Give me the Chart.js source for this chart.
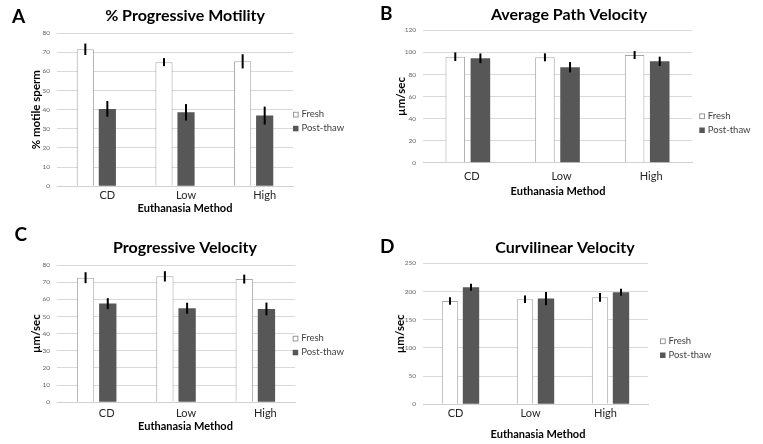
<!DOCTYPE html>
<html>
<head>
<meta charset="utf-8">
<script src="https://cdn.jsdelivr.net/npm/chart.js@4/dist/chart.umd.min.js"></script>
<style>
  body { margin: 0; background: #fff; }
  #wrap { position: relative; width: 763px; height: 444px; overflow: hidden; }
  canvas { position: absolute; }
</style>
</head>
<body>
<div id="wrap">
  <canvas id="chartA" width="380" height="222" style="left:0;top:0"></canvas>
  <canvas id="chartB" width="383" height="222" style="left:380px;top:0"></canvas>
  <canvas id="chartC" width="380" height="222" style="left:0;top:222px"></canvas>
  <canvas id="chartD" width="383" height="222" style="left:380px;top:222px"></canvas>
</div>
<script>
// data
const categories = ['CD', 'Low', 'High'];
const seriesNames = ['Fresh', 'Post-thaw'];

const motilityFresh = [71.5, 64.8, 65.2];
const motilityFreshErr = [3.0, 2.1, 3.7];
const motilityPost = [40.4, 38.6, 36.9];
const motilityPostErr = [4.1, 4.3, 4.7];

const vapFresh = [96.1, 95.5, 97.6];
const vapFreshErr = [3.9, 3.6, 3.6];
const vapPost = [94.6, 86.5, 91.9];
const vapPostErr = [4.4, 4.7, 4.2];

const vslFresh = [72.6, 73.4, 71.8];
const vslFreshErr = [3.2, 3.0, 2.6];
const vslPost = [57.5, 54.8, 54.4];
const vslPostErr = [3.2, 3.2, 3.7];

const vclFresh = [183.2, 186.2, 189.7];
const vclFreshErr = [6.5, 6.8, 7.7];
const vclPost = [207.4, 187.4, 198.6];
const vclPostErr = [6.2, 11.8, 6.2];

const FONT = 'Lato, "Open Sans", sans-serif';

// error bars drawn from the y scale
const errorBars = {
    id: 'errorBars',
    afterDatasetsDraw(chart) {
        const ctx = chart.ctx;
        const y = chart.scales.y;
        ctx.save();
        ctx.strokeStyle = '#000';
        ctx.lineWidth = 2;
        chart.data.datasets.forEach((ds, i) => {
            const meta = chart.getDatasetMeta(i);
            meta.data.forEach((bar, j) => {
                const v = ds.data[j], e = ds.errors[j];
                ctx.beginPath();
                ctx.moveTo(bar.x, y.getPixelForValue(v + e));
                ctx.lineTo(bar.x, y.getPixelForValue(v - e));
                ctx.stroke();
            });
        });
        ctx.restore();
    }
};

// panel letter, titles and legend
const panelText = {
    id: 'panelText',
    afterDraw(chart, args, opts) {
        const ctx = chart.ctx;
        ctx.save();
        ctx.fillStyle = '#000';
        ctx.textBaseline = 'alphabetic';
        ctx.font = 'bold 19px ' + FONT;
        ctx.textAlign = 'left';
        ctx.fillText(opts.letter, opts.letterX, opts.letterY);
        ctx.font = 'bold 16px ' + FONT;
        ctx.textAlign = 'center';
        ctx.fillText(opts.title, opts.titleX, opts.titleY);

        ctx.font = 'bold 11px ' + FONT;
        ctx.textBaseline = 'middle';
        ctx.fillText('Euthanasia Method', opts.xTitleX, opts.xTitleY);

        ctx.font = '9.5px ' + FONT;
        ctx.textAlign = 'left';
        ctx.textBaseline = 'alphabetic';
        chart.data.datasets.forEach((ds, i) => {
            const by = opts.legendY + i * 14;
            ctx.fillStyle = ds.backgroundColor;
            ctx.fillRect(opts.legendX, by - 5.5, 5.5, 5.5);
            if (i === 0) {
                ctx.strokeStyle = '#808080';
                ctx.lineWidth = 0.8;
                ctx.strokeRect(opts.legendX + 0.4, by - 5.1, 4.8, 4.8);
            }
            ctx.fillStyle = '#404040';
            ctx.fillText(ds.label, opts.legendX + 8.5, by);
        });
        ctx.restore();
    }
};

function makePanel(id, fresh, freshErr, post, postErr, p) {
    const W = document.getElementById(id).width;
    const H = document.getElementById(id).height;
    const xh = p.text.xTitleY + 6.6 - p.bottom;

    new Chart(document.getElementById(id), {
        type: 'bar',
        data: {
            labels: categories,
            datasets: [{
                label: seriesNames[0],
                data: fresh,
                errors: freshErr,
                backgroundColor: '#ffffff',
                borderColor: '#a6a6a6',
                borderWidth: 1
            }, {
                label: seriesNames[1],
                data: post,
                errors: postErr,
                backgroundColor: '#575757',
                borderWidth: 0
            }]
        },
        options: {
            responsive: false,
            animation: false,
            events: [],
            categoryPercentage: 0.56,
            barPercentage: 0.78,
            layout: {
                padding: { left: 0, top: p.top, right: W - p.right, bottom: H - p.bottom - xh }
            },
            plugins: {
                legend: { display: false },
                tooltip: { enabled: false },
                panelText: p.text
            },
            scales: {
                x: {
                    grid: { display: false, drawTicks: false },
                    border: { display: true, color: '#d0d0d0' },
                    ticks: { color: '#262626', font: { family: FONT, size: 11 }, padding: p.tickPad, labelOffset: p.labelShift },
                    afterFit(s) { s.height = xh; }
                },
                y: {
                    min: 0, max: p.max,
                    ticks: { stepSize: p.step, color: '#666', font: { family: FONT, size: 6.5 }, padding: 7 },
                    grid: { color: '#d9d9d9', drawTicks: false },
                    border: { display: false },
                    title: {
                        display: true, text: p.yTitle, color: '#000',
                        font: { family: FONT, size: 11.5, weight: 'bold' },
                        padding: { top: p.yTitleX - 6.9, bottom: 0 }
                    },
                    afterFit(s) { s.width = p.left; }
                }
            }
        },
        plugins: [errorBars, panelText]
    });
}

makePanel('chartA', motilityFresh, motilityFreshErr, motilityPost, motilityPostErr, {
    left: 57, top: 33, right: 293, bottom: 186.3, yTitleX: 36, tickPad: 2.4, labelShift: 11,
    max: 80, step: 10, yTitle: '% motile sperm',
    text: { letter: 'A', letterX: 12, letterY: 22.7, title: '% Progressive Motility', titleX: 185, titleY: 20.7,
            xTitleX: 185, xTitleY: 208.3, legendX: 293, legendY: 117.3 }
});

makePanel('chartB', vapFresh, vapFreshErr, vapPost, vapPostErr, {
    left: 43, top: 30.3, right: 312, bottom: 162.7, yTitleX: 21, tickPad: 7.4, labelShift: 4,
    max: 120, step: 20, yTitle: 'µm/sec',
    text: { letter: 'B', letterX: 0, letterY: 20, title: 'Average Path Velocity', titleX: 189, titleY: 20,
            xTitleX: 178, xTitleY: 191.8, legendX: 319.3, legendY: 119 }
});

makePanel('chartC', vslFresh, vslFreshErr, vslPost, vslPostErr, {
    left: 57, top: 43, right: 295, bottom: 180.3, yTitleX: 36, tickPad: 4.8, labelShift: 10,
    max: 80, step: 10, yTitle: 'µm/sec',
    text: { letter: 'C', letterX: 14.5, letterY: 19, title: 'Progressive Velocity', titleX: 185, titleY: 31.3,
            xTitleX: 185.5, xTitleY: 204.7, legendX: 292.7, legendY: 119.3 }
});

makePanel('chartD', vclFresh, vclFreshErr, vclPost, vclPostErr, {
    left: 43, top: 41.3, right: 268, bottom: 182.3, yTitleX: 20.5, tickPad: 2.8, labelShift: -5,
    max: 250, step: 50, yTitle: 'µm/sec',
    text: { letter: 'D', letterX: 0, letterY: 31, title: 'Curvilinear Velocity', titleX: 185, titleY: 31.3,
            xTitleX: 158, xTitleY: 212.7, legendX: 280, legendY: 122 }
});
</script>
</body>
</html>
